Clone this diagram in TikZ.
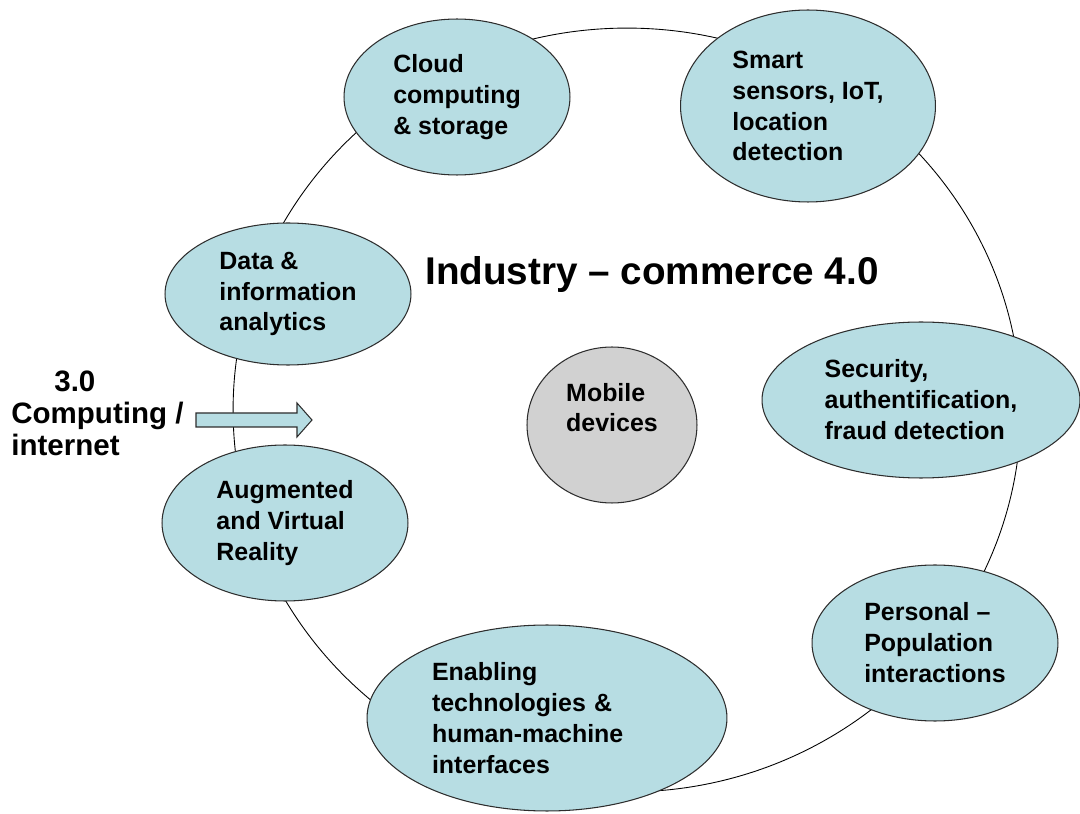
\documentclass[tikz,border=0pt]{standalone}
\usepackage{fontspec}
\setmainfont{Liberation Sans}
\usetikzlibrary{shapes.geometric, positioning}
\definecolor{topicColor}{RGB}{183,221,227}
\definecolor{deviceColor}{RGB}{209,209,209}
\definecolor{lineColor}{RGB}{45,45,45}
\tikzset{topic/.style={ellipse, draw=lineColor, fill=topicColor, line width=0.6pt, inner sep=0pt, align=left, font=\bfseries\fontsize{14.2}{17.6}\selectfont}}
\tikzset{device/.style={topic, fill=deviceColor}}
\tikzset{heading/.style={inner sep=0pt, align=left, font=\bfseries\fontsize{22}{26}\selectfont}}

\begin{document}
\begin{tikzpicture}[x=0.02cm, y=-0.02cm]
\useasboundingbox (0,0) rectangle (1080,814);

% Ring
\node (ring) [ellipse, draw=black, line width=0.5pt, minimum width=15.76cm, minimum height=15.28cm] at (627,410) {};

% Nodes
\node (cloud) [topic, minimum width=4.52cm, minimum height=3.12cm] at (457,97) {Cloud\\computing\\\& storage};
\node (sensors) [topic, minimum width=5.1cm, minimum height=3.84cm] at (808,106) {Smart\\sensors, IoT,\\location\\detection};
\node (data) [topic, minimum width=4.92cm, minimum height=2.84cm] at (288,294) {Data \&\\information\\analytics};
\node (reality) [topic, minimum width=4.92cm, minimum height=3.12cm] at (285,523) {Augmented\\and Virtual\\Reality};
\node (security) [topic, minimum width=6.36cm, minimum height=3.12cm] at (921,400) {Security,\\authentification,\\fraud detection};
\node (personal) [topic, minimum width=4.92cm, minimum height=3.12cm] at (935,643) {Personal --\\Population\\interactions};
\node (enabling) [topic, text width=4.6cm, minimum width=7.2cm, minimum height=3.72cm] at (547,718) {Enabling\\technologies \&\\human-machine\\interfaces};
\node (mobile) [device, text depth=20pt, minimum width=3.4cm, minimum height=3.12cm] at (612,425) {Mobile\\devices};

\node (title) [heading, anchor=base west] at (425,285) {Industry -- commerce 4.0};
\node (previous) [heading, anchor=north west, font=\bfseries\fontsize{16.8}{18}\selectfont] at (11,371) {\hspace*{0.86cm}3.0\\Computing /\\internet};

% Arrow
\draw [draw=lineColor, fill=topicColor, line width=0.6pt] (196,413) -- (297,413) -- (297,403) -- (312,420) -- (297,437) -- (297,427) -- (196,427) -- cycle;

\end{tikzpicture}
\end{document}
